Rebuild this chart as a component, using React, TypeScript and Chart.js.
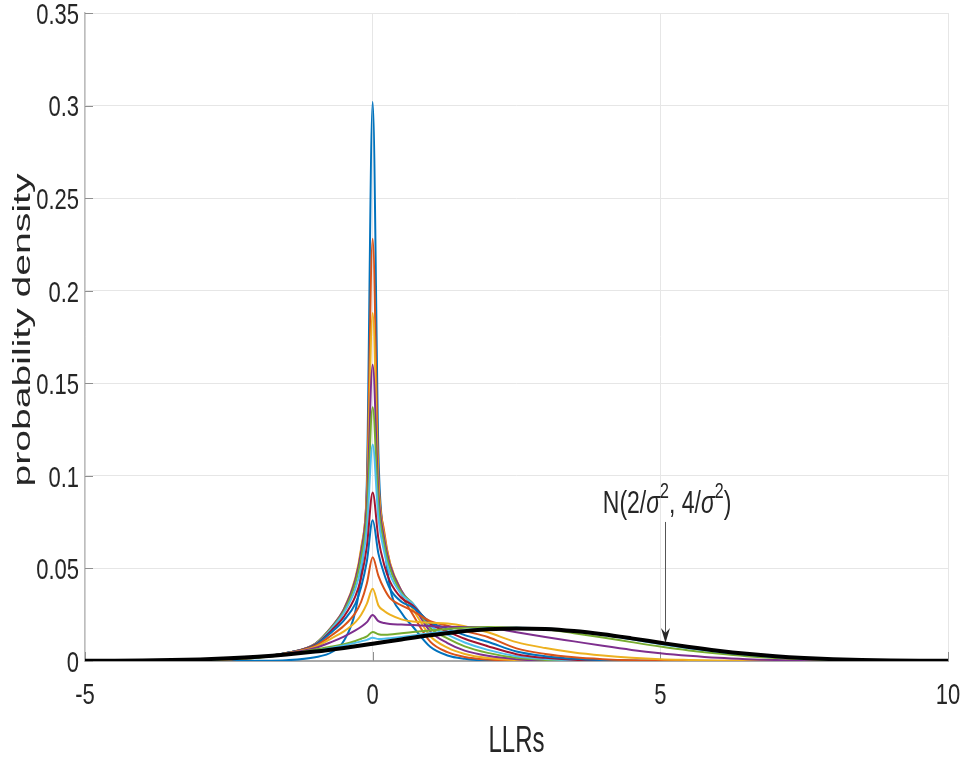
import React, { useEffect, useRef } from 'react';
import { Chart, registerables } from 'chart.js';

Chart.register(...registerables);

// ---------- data ----------
const X_GRID = [-5, -4, -3, -2.5, -2, -1.5, -1, -0.7, -0.5, -0.3, -0.2, -0.1, 0, 0.1, 0.2, 0.3, 0.5, 0.7, 1, 1.3, 1.6, 2, 2.5, 3, 3.5, 4, 4.5, 5, 5.5, 6, 6.5, 7, 8, 9, 10];

const ITER_1 = [0, 0, 0, 0, 0.0001, 0.0004, 0.002, 0.005, 0.011, 0.027, 0.048, 0.098, 0.302, 0.112, 0.066, 0.04, 0.026, 0.0185, 0.0077, 0.003, 0.0012, 0.0002, 0, 0, 0, 0, 0, 0, 0, 0, 0, 0, 0, 0, 0];
const ITER_2 = [0, 0.0001, 0.0004, 0.0009, 0.0019, 0.0042, 0.009, 0.0185, 0.027, 0.044, 0.06, 0.093, 0.228, 0.1, 0.07, 0.053, 0.036, 0.025, 0.0105, 0.0048, 0.0022, 0.0008, 0.0002, 0, 0, 0, 0, 0, 0, 0, 0, 0, 0, 0, 0];
const ITER_3 = [0, 0.0001, 0.0004, 0.0009, 0.002, 0.0043, 0.0093, 0.019, 0.028, 0.045, 0.061, 0.089, 0.188, 0.095, 0.068, 0.053, 0.038, 0.028, 0.0135, 0.0072, 0.0038, 0.0016, 0.0005, 0.0001, 0, 0, 0, 0, 0, 0, 0, 0, 0, 0, 0];
const ITER_4 = [0, 0.0001, 0.0004, 0.0009, 0.002, 0.0043, 0.0093, 0.019, 0.028, 0.044, 0.059, 0.085, 0.16, 0.09, 0.066, 0.052, 0.038, 0.03, 0.016, 0.0097, 0.0056, 0.0028, 0.001, 0.0003, 0.0001, 0, 0, 0, 0, 0, 0, 0, 0, 0, 0];
const ITER_5 = [0, 0.0001, 0.0004, 0.0009, 0.002, 0.0043, 0.0092, 0.0185, 0.027, 0.042, 0.056, 0.079, 0.137, 0.084, 0.063, 0.05, 0.037, 0.031, 0.0178, 0.0122, 0.0079, 0.0044, 0.0017, 0.0006, 0.0002, 0.0001, 0, 0, 0, 0, 0, 0, 0, 0, 0];
const ITER_6 = [0, 0.0001, 0.0004, 0.0009, 0.002, 0.0043, 0.009, 0.018, 0.026, 0.039, 0.051, 0.072, 0.117, 0.077, 0.059, 0.047, 0.036, 0.031, 0.0192, 0.0142, 0.01, 0.006, 0.0026, 0.0011, 0.0004, 0.0001, 0, 0, 0, 0, 0, 0, 0, 0, 0];
const ITER_7 = [0, 0.0001, 0.0004, 0.001, 0.002, 0.0043, 0.0088, 0.017, 0.024, 0.035, 0.045, 0.062, 0.091, 0.066, 0.052, 0.043, 0.034, 0.03, 0.0202, 0.016, 0.012, 0.008, 0.0037, 0.0017, 0.0007, 0.0003, 0.0001, 0, 0, 0, 0, 0, 0, 0, 0];
const ITER_8 = [0, 0.0001, 0.0004, 0.001, 0.002, 0.0043, 0.0085, 0.016, 0.022, 0.031, 0.04, 0.054, 0.076, 0.058, 0.047, 0.039, 0.032, 0.029, 0.021, 0.0175, 0.014, 0.0104, 0.0051, 0.0026, 0.0012, 0.0005, 0.0002, 0.0001, 0, 0, 0, 0, 0, 0, 0];
const ITER_9 = [0, 0.0001, 0.0004, 0.001, 0.002, 0.0042, 0.0081, 0.0142, 0.019, 0.026, 0.032, 0.042, 0.056, 0.046, 0.039, 0.034, 0.03, 0.027, 0.0215, 0.019, 0.0162, 0.013, 0.0068, 0.0038, 0.002, 0.001, 0.0004, 0.0002, 0.0001, 0, 0, 0, 0, 0, 0];
const ITER_10 = [0, 0.0001, 0.0004, 0.001, 0.002, 0.0041, 0.0076, 0.0125, 0.016, 0.021, 0.025, 0.031, 0.039, 0.03, 0.027, 0.025, 0.0225, 0.0213, 0.0207, 0.0203, 0.0188, 0.0155, 0.0102, 0.007, 0.0046, 0.003, 0.0018, 0.001, 0.0006, 0.0003, 0.0002, 0.0001, 0, 0, 0];
const ITER_11 = [0, 0.0001, 0.0004, 0.0009, 0.0019, 0.0039, 0.007, 0.0105, 0.0132, 0.0165, 0.0185, 0.021, 0.0248, 0.0215, 0.0205, 0.02, 0.0197, 0.0194, 0.0189, 0.0185, 0.0184, 0.0181, 0.0155, 0.013, 0.0106, 0.0082, 0.006, 0.0042, 0.0028, 0.0017, 0.001, 0.0006, 0.0002, 0, 0];
const ITER_12 = [0, 0.0001, 0.0004, 0.0009, 0.0018, 0.0035, 0.0062, 0.0078, 0.009, 0.0108, 0.012, 0.0133, 0.0157, 0.0145, 0.0142, 0.0143, 0.015, 0.0156, 0.0165, 0.0173, 0.0179, 0.0184, 0.018, 0.0172, 0.015, 0.0127, 0.0102, 0.0078, 0.0057, 0.004, 0.0026, 0.0016, 0.0005, 0.0001, 0];
const ITER_13 = [0, 0.0002, 0.0007, 0.0012, 0.0021, 0.0034, 0.0055, 0.0072, 0.0084, 0.0098, 0.0106, 0.0114, 0.0125, 0.0119, 0.012, 0.0123, 0.013, 0.0138, 0.015, 0.016, 0.0168, 0.0177, 0.018, 0.0176, 0.016, 0.014, 0.0117, 0.0092, 0.0069, 0.005, 0.0034, 0.0022, 0.0008, 0.0002, 0];

const ITERATIONS = [ITER_1, ITER_2, ITER_3, ITER_4, ITER_5, ITER_6, ITER_7, ITER_8, ITER_9, ITER_10, ITER_11, ITER_12, ITER_13];

const X_GAUSS = [-5, -4.5, -4, -3.5, -3, -2.5, -2, -1.5, -1, -0.5, 0, 0.5, 1, 1.5, 2, 2.5, 3, 3.5, 4, 4.5, 5, 5.5, 6, 6.5, 7, 7.5, 8, 8.5, 9, 9.5, 10];
const Y_GAUSS = [0.00007, 0.00014, 0.00026, 0.00049, 0.00086, 0.00145, 0.00231, 0.00352, 0.00511, 0.00707, 0.0093, 0.01165, 0.0139, 0.0158, 0.0171, 0.01762, 0.0173, 0.01617, 0.0144, 0.01221, 0.00986, 0.00758, 0.00555, 0.00387, 0.00257, 0.00163, 0.00098, 0.00056, 0.00031, 0.00016, 0.00008];

const X_TICKS = [-5, 0, 5, 10];
const X_TICK_LABELS = ['-5', '0', '5', '10'];
const Y_TICKS = [0, 0.05, 0.1, 0.15, 0.2, 0.25, 0.3, 0.35];
const Y_TICK_LABELS = ['0', '0.05', '0.1', '0.15', '0.2', '0.25', '0.3', '0.35'];

const X_LABEL = 'LLRs';
const Y_LABEL = 'probability density';

// annotation anchor (data coordinates)
const NOTE_TEXT_X = 4.0;
const NOTE_TEXT_Y = 0.0799;
const ARROW_X = 5.08;
const ARROW_FROM_Y = 0.0751;
const ARROW_TO_Y = 0.0097;

// ---------- styles ----------
const COLORS = ['#0072BD', '#D95319', '#EDB120', '#7E2F8E', '#77AC30', '#4DBEEE', '#A2142F'];
const FONT = '"Liberation Sans", Arial, Helvetica, sans-serif';
const TEXT_COLOR = '#262626';

function drawStretched(ctx: CanvasRenderingContext2D, text: string, x: number, y: number, size: number, sy: number, align: CanvasTextAlign, italic = false) {
  ctx.save();
  ctx.translate(x, y);
  ctx.scale(1, sy);
  ctx.font = `${italic ? 'italic ' : ''}${size}px ${FONT}`;
  ctx.textAlign = align;
  ctx.textBaseline = 'alphabetic';
  ctx.fillStyle = TEXT_COLOR;
  ctx.fillText(text, 0, 0);
  ctx.restore();
}

const decorPlugin = {
  id: 'matlabDecor',
  beforeDatasetsDraw(chart: any) {
    const { ctx, chartArea, scales } = chart;
    const xs = scales.x;
    const ys = scales.y;
    ctx.save();
    ctx.strokeStyle = '#8f8f8f';
    ctx.lineWidth = 1;
    Y_TICKS.forEach((v) => {
      const py = Math.round(ys.getPixelForValue(v)) + 0.5;
      ctx.beginPath();
      ctx.moveTo(chartArea.left, py);
      ctx.lineTo(chartArea.left + 8, py);
      ctx.stroke();
    });
    X_TICKS.forEach((v) => {
      const px = Math.round(xs.getPixelForValue(v)) + 0.5;
      ctx.beginPath();
      ctx.moveTo(px, chartArea.bottom);
      ctx.lineTo(px, chartArea.bottom - 9);
      ctx.stroke();
    });
    ctx.restore();
  },
  afterDatasetsDraw(chart: any) {
    const { ctx, chartArea, scales } = chart;
    const xs = scales.x;
    const ys = scales.y;

    // tick labels
    const tSize = 22;
    const tSy = 1.38;
    const digitMid = 0.358 * tSize * tSy;
    Y_TICKS.forEach((v, i) => {
      const py = ys.getPixelForValue(v);
      drawStretched(ctx, Y_TICK_LABELS[i], chartArea.left - 6, py + digitMid, tSize, tSy, 'right');
    });
    X_TICKS.forEach((v, i) => {
      const px = xs.getPixelForValue(v);
      drawStretched(ctx, X_TICK_LABELS[i], px, chartArea.bottom + 32.5 + digitMid, tSize, tSy, 'center');
    });

    // x label
    drawStretched(ctx, X_LABEL, (chartArea.left + chartArea.right) / 2, chartArea.bottom + 91, 24, 1.57, 'center');

    // y label (rotated)
    ctx.save();
    ctx.translate(30, 330);
    ctx.rotate(-Math.PI / 2);
    ctx.scale(1.7, 1);
    ctx.font = `23px ${FONT}`;
    ctx.textAlign = 'center';
    ctx.textBaseline = 'alphabetic';
    ctx.fillStyle = TEXT_COLOR;
    ctx.fillText(Y_LABEL, 0, 0);
    ctx.restore();

    // arrow
    const ax = Math.round(xs.getPixelForValue(ARROW_X)) + 0.5;
    const ay0 = ys.getPixelForValue(ARROW_FROM_Y);
    const ay1 = ys.getPixelForValue(ARROW_TO_Y);
    ctx.save();
    ctx.strokeStyle = '#555555';
    ctx.lineWidth = 1;
    ctx.beginPath();
    ctx.moveTo(ax, ay0);
    ctx.lineTo(ax, ay1 - 8);
    ctx.stroke();
    ctx.fillStyle = '#262626';
    ctx.beginPath();
    ctx.moveTo(ax, ay1);
    ctx.lineTo(ax - 4.5, ay1 - 15);
    ctx.lineTo(ax, ay1 - 10);
    ctx.lineTo(ax + 4.5, ay1 - 15);
    ctx.closePath();
    ctx.fill();
    ctx.restore();

    // annotation text N(2/σ², 4/σ²)
    const base = ys.getPixelForValue(NOTE_TEXT_Y);
    let cx = xs.getPixelForValue(NOTE_TEXT_X);
    const mSize = 23;
    const sSize = 16;
    const sy = 1.4;
    const parts = [
      { t: 'N(2/', size: mSize, italic: false, raise: 0 },
      { t: 'σ', size: mSize, italic: true, raise: 0 },
      { t: '2', size: sSize, italic: false, raise: 15 },
      { t: ', 4/', size: mSize, italic: false, raise: 0 },
      { t: 'σ', size: mSize, italic: true, raise: 0 },
      { t: '2', size: sSize, italic: false, raise: 15 },
      { t: ')', size: mSize, italic: false, raise: 0 },
    ];
    parts.forEach((p) => {
      ctx.save();
      ctx.font = `${p.italic ? 'italic ' : ''}${p.size}px ${FONT}`;
      const w = ctx.measureText(p.t).width;
      ctx.restore();
      drawStretched(ctx, p.t, cx, base - p.raise, p.size, sy, 'left', p.italic);
      cx += w;
    });
  },
};

export default function App() {
  const canvasRef = useRef<HTMLCanvasElement | null>(null);

  useEffect(() => {
    if (!canvasRef.current) return;
    const datasets: any[] = [];
    datasets.push({
      label: 'N(2/σ², 4/σ²)',
      data: X_GAUSS.map((x, i) => ({ x, y: Y_GAUSS[i] })),
      borderColor: '#000000',
      borderWidth: 4,
      pointRadius: 0,
      cubicInterpolationMode: 'monotone',
      order: 0,
    });
    ITERATIONS.forEach((series, k) => {
      datasets.push({
        label: `iteration ${k + 1}`,
        data: X_GRID.map((x, i) => ({ x, y: series[i] })),
        borderColor: COLORS[k % COLORS.length],
        borderWidth: 2,
        pointRadius: 0,
        cubicInterpolationMode: 'monotone',
        order: 100 - k,
      });
    });

    const chart = new Chart(canvasRef.current, {
      type: 'line',
      data: { datasets },
      options: {
        animation: false,
        responsive: false,
        devicePixelRatio: 1,
        parsing: true,
        layout: { padding: { left: 85, right: 18, top: 13, bottom: 100 }, autoPadding: false },
        plugins: { legend: { display: false }, tooltip: { enabled: false }, title: { display: false } },
        scales: {
          x: {
            type: 'linear',
            min: -5,
            max: 10,
            afterBuildTicks: (scale: any) => {
              scale.ticks = X_TICKS.map((v) => ({ value: v }));
            },
            ticks: { display: false },
            grid: { color: '#e6e6e6', lineWidth: 1, drawTicks: false },
            border: { display: true, color: '#a8a8a8', width: 2 },
          },
          y: {
            type: 'linear',
            min: 0,
            max: 0.35,
            afterBuildTicks: (scale: any) => {
              scale.ticks = Y_TICKS.map((v) => ({ value: v }));
            },
            ticks: { display: false },
            grid: { color: '#e6e6e6', lineWidth: 1, drawTicks: false },
            border: { display: true, color: '#bdbdbd', width: 1.5 },
          },
        },
      } as any,
      plugins: [decorPlugin],
    });
    return () => chart.destroy();
  }, []);

  return (
    <div style={{ position: 'absolute', left: 0, top: 0, width: 966, height: 761, background: '#ffffff' }}>
      <canvas ref={canvasRef} width={966} height={761} style={{ display: 'block' }} />
    </div>
  );
}
